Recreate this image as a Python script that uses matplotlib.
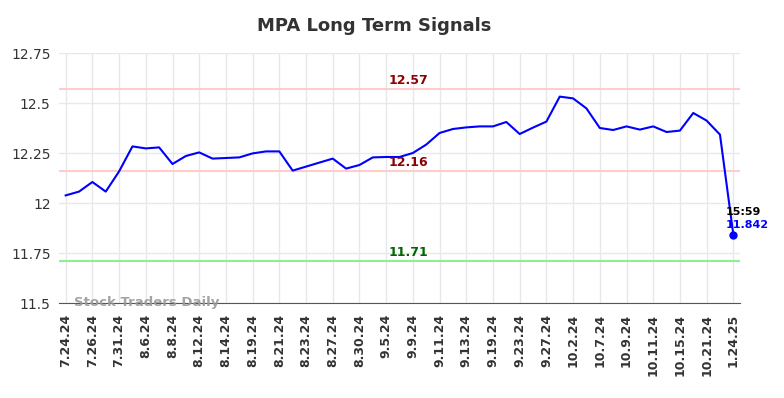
import matplotlib
matplotlib.use("Agg")
import matplotlib.pyplot as plt

dates = ["7.24.24", "7.26.24", "7.31.24", "8.6.24", "8.8.24", "8.12.24", "8.14.24",
         "8.19.24", "8.21.24", "8.23.24", "8.27.24", "8.30.24", "9.5.24", "9.9.24",
         "9.11.24", "9.13.24", "9.19.24", "9.23.24", "9.27.24", "10.2.24", "10.7.24",
         "10.9.24", "10.11.24", "10.15.24", "10.21.24", "1.24.25"]

prices = [12.038, 12.057, 12.105, 12.057, 12.158, 12.283, 12.273, 12.278, 12.195,
          12.235, 12.253, 12.222, 12.225, 12.228, 12.248, 12.258, 12.258, 12.162,
          12.182, 12.202, 12.222, 12.172, 12.190, 12.228, 12.230, 12.230, 12.250,
          12.292, 12.350, 12.370, 12.378, 12.383, 12.383, 12.405, 12.345, 12.377,
          12.407, 12.532, 12.523, 12.473, 12.375, 12.365, 12.383, 12.367, 12.383,
          12.355, 12.362, 12.450, 12.412, 12.342, 11.842]

upper_signal = 12.57
mid_signal = 12.16
lower_signal = 11.71
last_time = "15:59"
last_price = 11.842
yticks = [11.5, 11.75, 12.0, 12.25, 12.5, 12.75]
ytick_labels = ["11.5", "11.75", "12", "12.25", "12.5", "12.75"]

fig = plt.figure(figsize=(7.84, 3.98), dpi=100)
ax = fig.add_axes([59/784, 1 - 303/398, (740 - 59)/784, (303 - 53)/398])

x = list(range(len(prices)))
tick_pos = list(range(0, len(prices), 2))

ax.set_xlim(-0.5, len(prices) - 0.5)
ax.set_ylim(11.5, 12.75)

ax.grid(True, color="#e8e8e8", linewidth=1)
ax.set_axisbelow(True)
for s in ["top", "right", "left"]:
    ax.spines[s].set_visible(False)
ax.spines["bottom"].set_color("#555555")

ax.axhline(upper_signal, color="#ffcccc", linewidth=1.5, zorder=1)
ax.axhline(mid_signal, color="#ffcccc", linewidth=1.5, zorder=1)
ax.axhline(lower_signal, color="#90ee90", linewidth=1.5, zorder=1)

ax.plot(x, prices, color="#0000ff", linewidth=1.5, zorder=3)
ax.plot([x[-1]], [last_price], "o", color="#0000ff", markersize=5, zorder=4)

ax.set_xticks(tick_pos)
ax.set_xticklabels(dates, rotation=90, fontsize=9, fontweight="bold", color="#333333")
ax.set_yticks(yticks)
ax.set_yticklabels(ytick_labels, fontsize=10, color="#333333")
ax.tick_params(length=0, pad=6)
ax.tick_params(axis="x", pad=8)

tx = 25.7
ax.text(tx, upper_signal + 0.012, f"{upper_signal:.2f}", color="#8b0000", fontsize=9,
        fontweight="bold", ha="center", va="bottom")
ax.text(tx, mid_signal + 0.012, f"{mid_signal:.2f}", color="#8b0000", fontsize=9,
        fontweight="bold", ha="center", va="bottom")
ax.text(tx, lower_signal + 0.012, f"{lower_signal:.2f}", color="#006400", fontsize=9,
        fontweight="bold", ha="center", va="bottom")

ax.text(x[-1] - 0.6, 11.955, last_time, color="black", fontsize=8, fontweight="bold",
        ha="left", va="center")
ax.text(x[-1] - 0.6, 11.888, f"{last_price}", color="#0000ff", fontsize=8, fontweight="bold",
        ha="left", va="center")

ax.text(0.6, 11.505, "Stock Traders Daily", color="#999999", fontsize=9.5,
        fontweight="bold", ha="left", va="center", alpha=0.9)

fig.suptitle("MPA Long Term Signals", x=374.5 / 784, y=1 - 26/398,
             fontsize=13, fontweight="bold", color="#333333", va="center")

fig.savefig("out.png", dpi=100)
